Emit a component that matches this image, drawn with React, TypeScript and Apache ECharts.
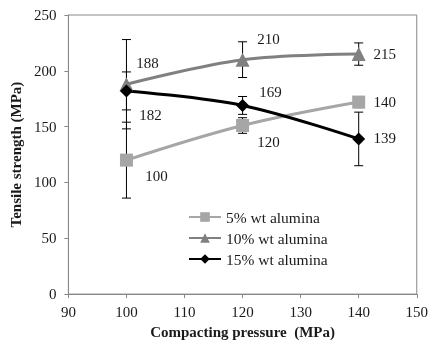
import React, { useEffect, useRef } from "react";
import * as echarts from "echarts";

const pressures = [100, 120, 140];
const seriesNames = ["5% wt alumina", "10% wt alumina", "15% wt alumina"];
const values5 = [120, 151, 172];
const values10 = [188, 210, 215];
const values15 = [182, 169, 139];
const errors5 = [34, 7, 5];
const errors10 = [40, 16, 10];
const errors15 = [17, 8, 24];
const labels5 = ["100", "120", "140"];
const labels10 = ["188", "210", "215"];
const labels15 = ["182", "169", "139"];
const xTicks = [90, 100, 110, 120, 130, 140, 150];
const yTicks = [0, 50, 100, 150, 200, 250];

const FONT = "Liberation Serif";
const TEXT = "#1a1a1a";

const offsets5 = [[30, 16], [26, 16], [26, 0]];
const offsets10 = [[21, -21], [26, -21], [26, 0]];
const offsets15 = [[24, 24], [28, -13], [26, -1]];

function buildData(values: number[], labels: string[], offs: number[][]) {
  return values.map((v, i) => ({
    value: [pressures[i], v],
    label: {
      show: true,
      position: "inside",
      offset: offs[i],
      formatter: labels[i],
      fontFamily: FONT,
      fontSize: 15,
      color: TEXT,
    },
  }));
}

export default function App() {
  const ref = useRef<HTMLDivElement>(null);
  useEffect(() => {
    if (!ref.current) return;
    const chart = echarts.init(ref.current, undefined, { renderer: "svg" });
    const errData: number[][] = [];
    [
      [values5, errors5],
      [values10, errors10],
      [values15, errors15],
    ].forEach(([vals, errs]) => {
      vals.forEach((v, i) => errData.push([pressures[i], v, errs[i]]));
    });
    const colors = ["#A6A6A6", "#808080", "#000000"];
    chart.setOption({
      animation: false,
      textStyle: { fontFamily: FONT },
      grid: {
        left: 68,
        right: 11,
        top: 15,
        bottom: 49,
        show: true,
        borderColor: "#888888",
        borderWidth: 1,
      },
      legend: {
        data: seriesNames,
        orient: "vertical",
        left: 183,
        top: 204,
        itemWidth: 32,
        itemHeight: 12,
        itemGap: 5,
        textStyle: { fontFamily: FONT, fontSize: 15.5, color: TEXT },
      },
      xAxis: {
        type: "value",
        min: xTicks[0],
        max: xTicks[xTicks.length - 1],
        interval: 10,
        name: "Compacting pressure  (MPa)",
        nameLocation: "middle",
        nameGap: 28,
        nameTextStyle: { fontFamily: FONT, fontSize: 15, fontWeight: "bold", color: TEXT },
        axisLine: { lineStyle: { color: "#888888" } },
        axisTick: { show: true, length: 4, lineStyle: { color: "#888888" } },
        axisLabel: { fontFamily: FONT, fontSize: 15, color: TEXT, margin: 10 },
        splitLine: { show: false },
      },
      yAxis: {
        type: "value",
        min: yTicks[0],
        max: yTicks[yTicks.length - 1],
        interval: 50,
        name: "Tensile strength (MPa)",
        nameLocation: "middle",
        nameGap: 40,
        nameTextStyle: { fontFamily: FONT, fontSize: 15, fontWeight: "bold", color: TEXT },
        axisLine: { show: true, lineStyle: { color: "#888888" } },
        axisTick: { show: true, length: 4, lineStyle: { color: "#888888" } },
        axisLabel: { fontFamily: FONT, fontSize: 15, color: TEXT, margin: 12 },
        splitLine: { show: false },
      },
      series: [
        {
          type: "custom",
          name: "err",
          z: 1,
          data: errData,
          renderItem: (params: any, api: any) => {
            const x = api.value(0);
            const y = api.value(1);
            const e = api.value(2);
            const top = api.coord([x, y + e]);
            const bot = api.coord([x, y - e]);
            const w = 4.5;
            const style = { stroke: "#000", lineWidth: 1 };
            return {
              type: "group",
              children: [
                { type: "line", shape: { x1: top[0], y1: top[1], x2: bot[0], y2: bot[1] }, style },
                { type: "line", shape: { x1: top[0] - w, y1: top[1], x2: top[0] + w, y2: top[1] }, style },
                { type: "line", shape: { x1: bot[0] - w, y1: bot[1], x2: bot[0] + w, y2: bot[1] }, style },
              ],
            };
          },
        },
        {
          type: "line",
          name: seriesNames[0],
          z: 3,
          smooth: 0.35,
          symbol: "rect",
          symbolSize: 13,
          lineStyle: { color: colors[0], width: 3 },
          itemStyle: { color: colors[0] },
          data: buildData(values5, labels5, offsets5),
        },
        {
          type: "line",
          name: seriesNames[1],
          z: 3,
          smooth: 0.35,
          symbol: "triangle",
          symbolSize: 14,
          lineStyle: { color: colors[1], width: 3 },
          itemStyle: { color: colors[1] },
          data: buildData(values10, labels10, offsets10),
        },
        {
          type: "line",
          name: seriesNames[2],
          z: 3,
          smooth: 0.35,
          symbol: "diamond",
          symbolSize: 13,
          lineStyle: { color: colors[2], width: 3 },
          itemStyle: { color: colors[2] },
          data: buildData(values15, labels15, offsets15),
        },
      ],
    });
    return () => chart.dispose();
  }, []);
  return (
    <div
      ref={ref}
      style={{ position: "fixed", left: 0, top: 0, width: 431, height: 344 }}
    />
  );
}
